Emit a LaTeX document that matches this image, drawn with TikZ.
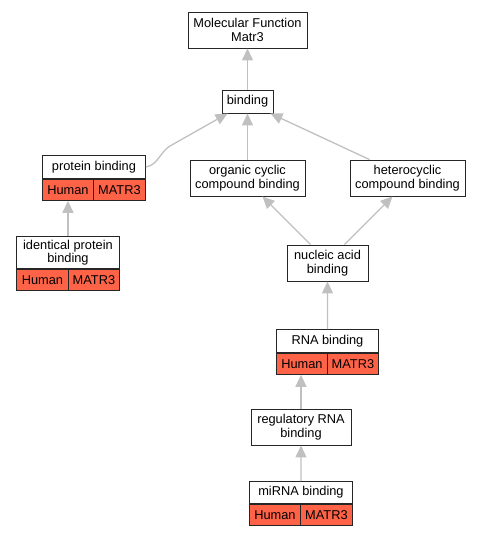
\documentclass[tikz,border=0pt]{standalone}
\usepackage{fontspec}
\setmainfont{Liberation Sans}
\usetikzlibrary{arrows.meta}
\definecolor{edgegray}{HTML}{C0C0C0}
\definecolor{annot}{HTML}{FF6347}
\newcommand{\termfont}{\fontsize{12.8}{13.5}\selectfont}

\begin{document}
\begin{tikzpicture}[x=1pt,y=-1pt]
  \tikzset{
    term/.style={draw=black!85,line width=0.9pt,fill=white,align=center,
      inner sep=0pt,font=\termfont},
    species/.style={term,fill=annot,minimum height=21pt,anchor=north west},
    isa/.style={draw=edgegray,line width=1.3pt,-{Triangle[length=12pt,width=11pt]}}
  }
  \useasboundingbox (0,0) rectangle (481,536);
  % terms
  \node[term,minimum width=119pt,minimum height=36pt] (mf) at (247.5,30) {Molecular Function\\Matr3};
  \node[term,minimum width=51pt,minimum height=23pt] (bind) at (247.5,101.5) {binding};
  \node[term,minimum width=115pt,minimum height=36pt] (ocb) at (247.5,178) {organic cyclic\\compound binding};
  \node[term,minimum width=115pt,minimum height=36pt] (hcb) at (407.5,178) {heterocyclic\\compound binding};
  \node[term,minimum width=81pt,minimum height=36pt] (nab) at (327.5,263) {nucleic acid\\binding};
  \node[term,minimum width=100pt,minimum height=36pt] (rrb) at (301,427) {regulatory RNA\\binding};
  % annotated terms
  \node[term,minimum width=103pt,minimum height=23pt,anchor=north west] (pb) at (42,155) {protein binding};
  \node[species,minimum width=51pt] (pbh) at (pb.south west) {Human};
  \node[species,minimum width=52pt,anchor=north east] (pbm) at (pb.south east) {MATR3};
  \node[term,minimum width=103pt,minimum height=32pt,anchor=north west] (ipb) at (16,236) {identical protein\\binding};
  \node[species,minimum width=52pt] (ipbh) at (ipb.south west) {Human};
  \node[species,minimum width=51pt,anchor=north east] (ipbm) at (ipb.south east) {MATR3};
  \node[term,minimum width=102pt,minimum height=23pt,anchor=north west] (rb) at (276,329) {RNA binding};
  \node[species,minimum width=51pt] (rbh) at (rb.south west) {Human};
  \node[species,minimum width=51pt,anchor=north east] (rbm) at (rb.south east) {MATR3};
  \node[term,minimum width=103pt,minimum height=22pt,anchor=north west] (mirb) at (249,481) {miRNA binding};
  \node[species,minimum width=51pt] (mirbh) at (mirb.south west) {Human};
  \node[species,minimum width=52pt,anchor=north east] (mirbm) at (mirb.south east) {MATR3};
  % is_a edges
  \coordinate (pbbend) at (170,146);
  \draw[isa] (bind) -- (mf);
  \draw[isa] (ocb) -- (bind);
  \draw[isa] (pb.east) .. controls (158,165) and (160,152) .. (pbbend) -- ([xshift=6pt]bind.south west);
  \draw[isa] ([xshift=-38pt]hcb.north) -- ([xshift=-3pt]bind.south east);
  \draw[isa] ([xshift=-17pt]nab.north) -- ([xshift=15pt]ocb.south);
  \draw[isa] ([xshift=17pt]nab.north) -- ([xshift=-15pt]hcb.south);
  \draw[isa] (rb.north) -- (nab.south);
  \draw[isa] (rrb.north) -- (rrb.north |- rbh.south);
  \draw[isa] (mirb.north) -- (rrb.south);
  \draw[isa] (ipb.north) -- (ipb.north |- pbh.south);
\end{tikzpicture}
\end{document}
